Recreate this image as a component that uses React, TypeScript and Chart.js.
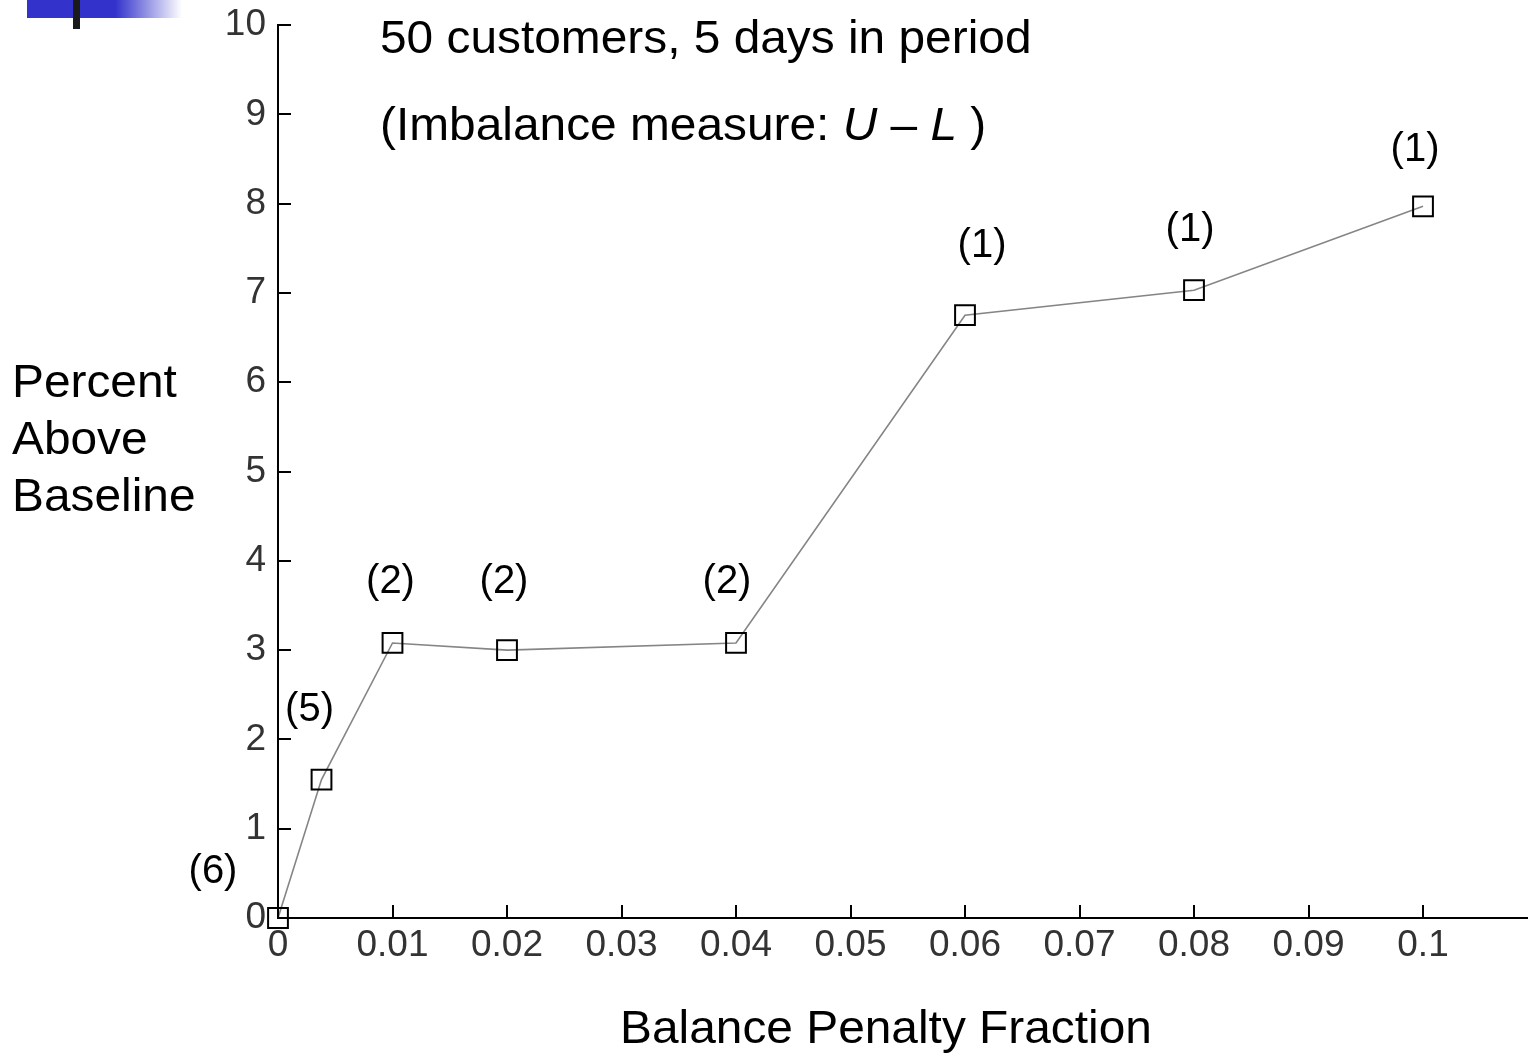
import React, { useEffect, useRef } from "react";
import { Chart, registerables } from "chart.js";

Chart.register(...registerables);

// ---- data ----
const penaltyFractions = [0, 0.0038, 0.01, 0.02, 0.04, 0.06, 0.08, 0.1];
const percentAboveBaseline = [0, 1.55, 3.08, 3.0, 3.08, 6.75, 7.03, 7.97];
const countLabels = ["(6)", "(5)", "(2)", "(2)", "(2)", "(1)", "(1)", "(1)"];
const xTickValues = [0, 0.01, 0.02, 0.03, 0.04, 0.05, 0.06, 0.07, 0.08, 0.09, 0.1];
const yTickValues = [0, 1, 2, 3, 4, 5, 6, 7, 8, 9, 10];
const titleLine1 = "50 customers, 5 days in period";
const titleLine2Parts = [
  { t: "(Imbalance measure: ", italic: false },
  { t: "U", italic: true },
  { t: " \u2013 ", italic: false },
  { t: "L", italic: true },
  { t: " )", italic: false },
];
const yAxisTitle = ["Percent", "Above", "Baseline"];
const xAxisTitle = "Balance Penalty Fraction";

// ---- styling (pixel offsets of count labels from their points) ----
const labelOffsets: [number, number][] = [
  [-65, -46], [-12, -70], [-2, -61], [-3, -68], [-9, -61], [17, -69], [-4, -60], [-8, -56],
];

const FONT = '"Liberation Sans", Arial, Helvetica, sans-serif';
const TITLE_SIZE = 46;
const TITLE_SX = 1.04;

const decorPlugin = {
  id: "decor",
  beforeDraw(chart: any) {
    const ctx = chart.ctx;
    ctx.save();
    ctx.fillStyle = "#ffffff";
    ctx.fillRect(0, 0, chart.width, chart.height);
    const g = ctx.createLinearGradient(27, 0, 182, 0);
    g.addColorStop(0, "#3333cc");
    g.addColorStop(0.57, "#3333cc");
    g.addColorStop(1, "rgba(255,255,255,1)");
    ctx.fillStyle = g;
    ctx.fillRect(27, 0, 155, 18);
    ctx.fillStyle = "#1a1a1a";
    ctx.fillRect(73, 0, 7, 29);
    ctx.restore();
  },
};

const ticksPlugin = {
  id: "inwardTicks",
  afterDraw(chart: any) {
    const ctx = chart.ctx;
    const xs = chart.scales.x;
    const ys = chart.scales.y;
    const area = chart.chartArea;
    ctx.save();
    ctx.strokeStyle = "#000";
    ctx.lineWidth = 2;
    const L = 13;
    xTickValues.forEach((v) => {
      const px = Math.round(xs.getPixelForValue(v));
      ctx.beginPath();
      ctx.moveTo(px, area.bottom);
      ctx.lineTo(px, area.bottom - L);
      ctx.stroke();
    });
    yTickValues.forEach((v) => {
      const py = Math.round(ys.getPixelForValue(v));
      ctx.beginPath();
      ctx.moveTo(area.left, py);
      ctx.lineTo(area.left + L, py);
      ctx.stroke();
    });
    ctx.restore();
  },
};

function drawScaled(ctx: any, text: string, x: number, y: number, sx: number) {
  ctx.save();
  ctx.translate(x, y);
  ctx.scale(sx, 1);
  ctx.fillText(text, 0, 0);
  ctx.restore();
}

const textPlugin = {
  id: "texts",
  afterDatasetsDraw(chart: any) {
    const ctx = chart.ctx;
    const xs = chart.scales.x;
    const ys = chart.scales.y;
    ctx.save();
    ctx.fillStyle = "#000";
    ctx.textBaseline = "middle";
    // count labels
    ctx.font = `40px ${FONT}`;
    ctx.textAlign = "center";
    countLabels.forEach((lab, i) => {
      const px = xs.getPixelForValue(penaltyFractions[i]) + labelOffsets[i][0];
      const py = ys.getPixelForValue(percentAboveBaseline[i]) + labelOffsets[i][1];
      ctx.fillText(lab, px, py);
    });
    // titles
    ctx.textAlign = "left";
    ctx.font = `${TITLE_SIZE}px ${FONT}`;
    drawScaled(ctx, titleLine1, 380, 40, TITLE_SX);
    let cx = 380;
    titleLine2Parts.forEach((p) => {
      ctx.font = `${p.italic ? "italic " : ""}${TITLE_SIZE}px ${FONT}`;
      drawScaled(ctx, p.t, cx, 127, TITLE_SX);
      cx += ctx.measureText(p.t).width * TITLE_SX;
    });
    ctx.font = `${TITLE_SIZE}px ${FONT}`;
    const yLines = [384, 441, 498];
    yAxisTitle.forEach((t, i) => drawScaled(ctx, t, 12, yLines[i], TITLE_SX));
    const w = ctx.measureText(xAxisTitle).width * TITLE_SX;
    drawScaled(ctx, xAxisTitle, 886 - w / 2, 1030, TITLE_SX);
    ctx.restore();
  },
};

export default function App() {
  const ref = useRef<HTMLCanvasElement | null>(null);
  useEffect(() => {
    if (!ref.current) return;
    const chart = new Chart(ref.current, {
      type: "line",
      data: {
        datasets: [
          {
            data: penaltyFractions.map((x, i) => ({ x, y: percentAboveBaseline[i] })),
            borderColor: "#858585",
            borderWidth: 1.6,
            pointStyle: "rect",
            pointRadius: 14,
            pointHoverRadius: 14,
            pointBorderColor: "#000",
            pointBorderWidth: 2,
            pointBackgroundColor: "rgba(0,0,0,0)",
            clip: false as any,
            tension: 0,
          },
        ],
      },
      options: {
        responsive: false,
        animation: false,
        devicePixelRatio: 1,
        layout: { autoPadding: false, padding: { top: 25, right: 0, left: 0, bottom: 0 } },
        plugins: { legend: { display: false }, tooltip: { enabled: false } },
        events: [],
        scales: {
          x: {
            type: "linear",
            min: 0,
            max: 0.10917,
            grid: { display: false, drawTicks: false },
            border: { display: true, color: "#000", width: 2 },
            afterBuildTicks: (s: any) => {
              s.ticks = xTickValues.map((v) => ({ value: v }));
            },
            afterFit: (s: any) => {
              s.height = 140;
              s.paddingLeft = 0;
              s.paddingRight = 0;
            },
            ticks: {
              padding: 6,
              maxRotation: 0,
              autoSkip: false,
              color: "#333",
              font: { family: FONT, size: 37 },
              callback: (v: any) => String(Number(Number(v).toFixed(2))),
            },
          },
          y: {
            type: "linear",
            min: 0,
            max: 10,
            grid: { display: false, drawTicks: false },
            border: { display: true, color: "#000", width: 2 },
            afterBuildTicks: (s: any) => {
              s.ticks = yTickValues.map((v) => ({ value: v }));
            },
            afterFit: (s: any) => {
              s.width = 278;
              s.paddingTop = 0;
              s.paddingBottom = 0;
            },
            ticks: {
              padding: 12,
              color: "#333",
              font: { family: FONT, size: 37 },
              callback: (v: any) => String(v),
            },
          },
        },
      },
      plugins: [decorPlugin, ticksPlugin, textPlugin],
    });
    return () => chart.destroy();
  }, []);
  return (
    <div style={{ position: "absolute", left: 0, top: 0, width: 1528, height: 1058 }}>
      <canvas ref={ref} width={1528} height={1058} style={{ width: 1528, height: 1058, display: "block" }} />
    </div>
  );
}
